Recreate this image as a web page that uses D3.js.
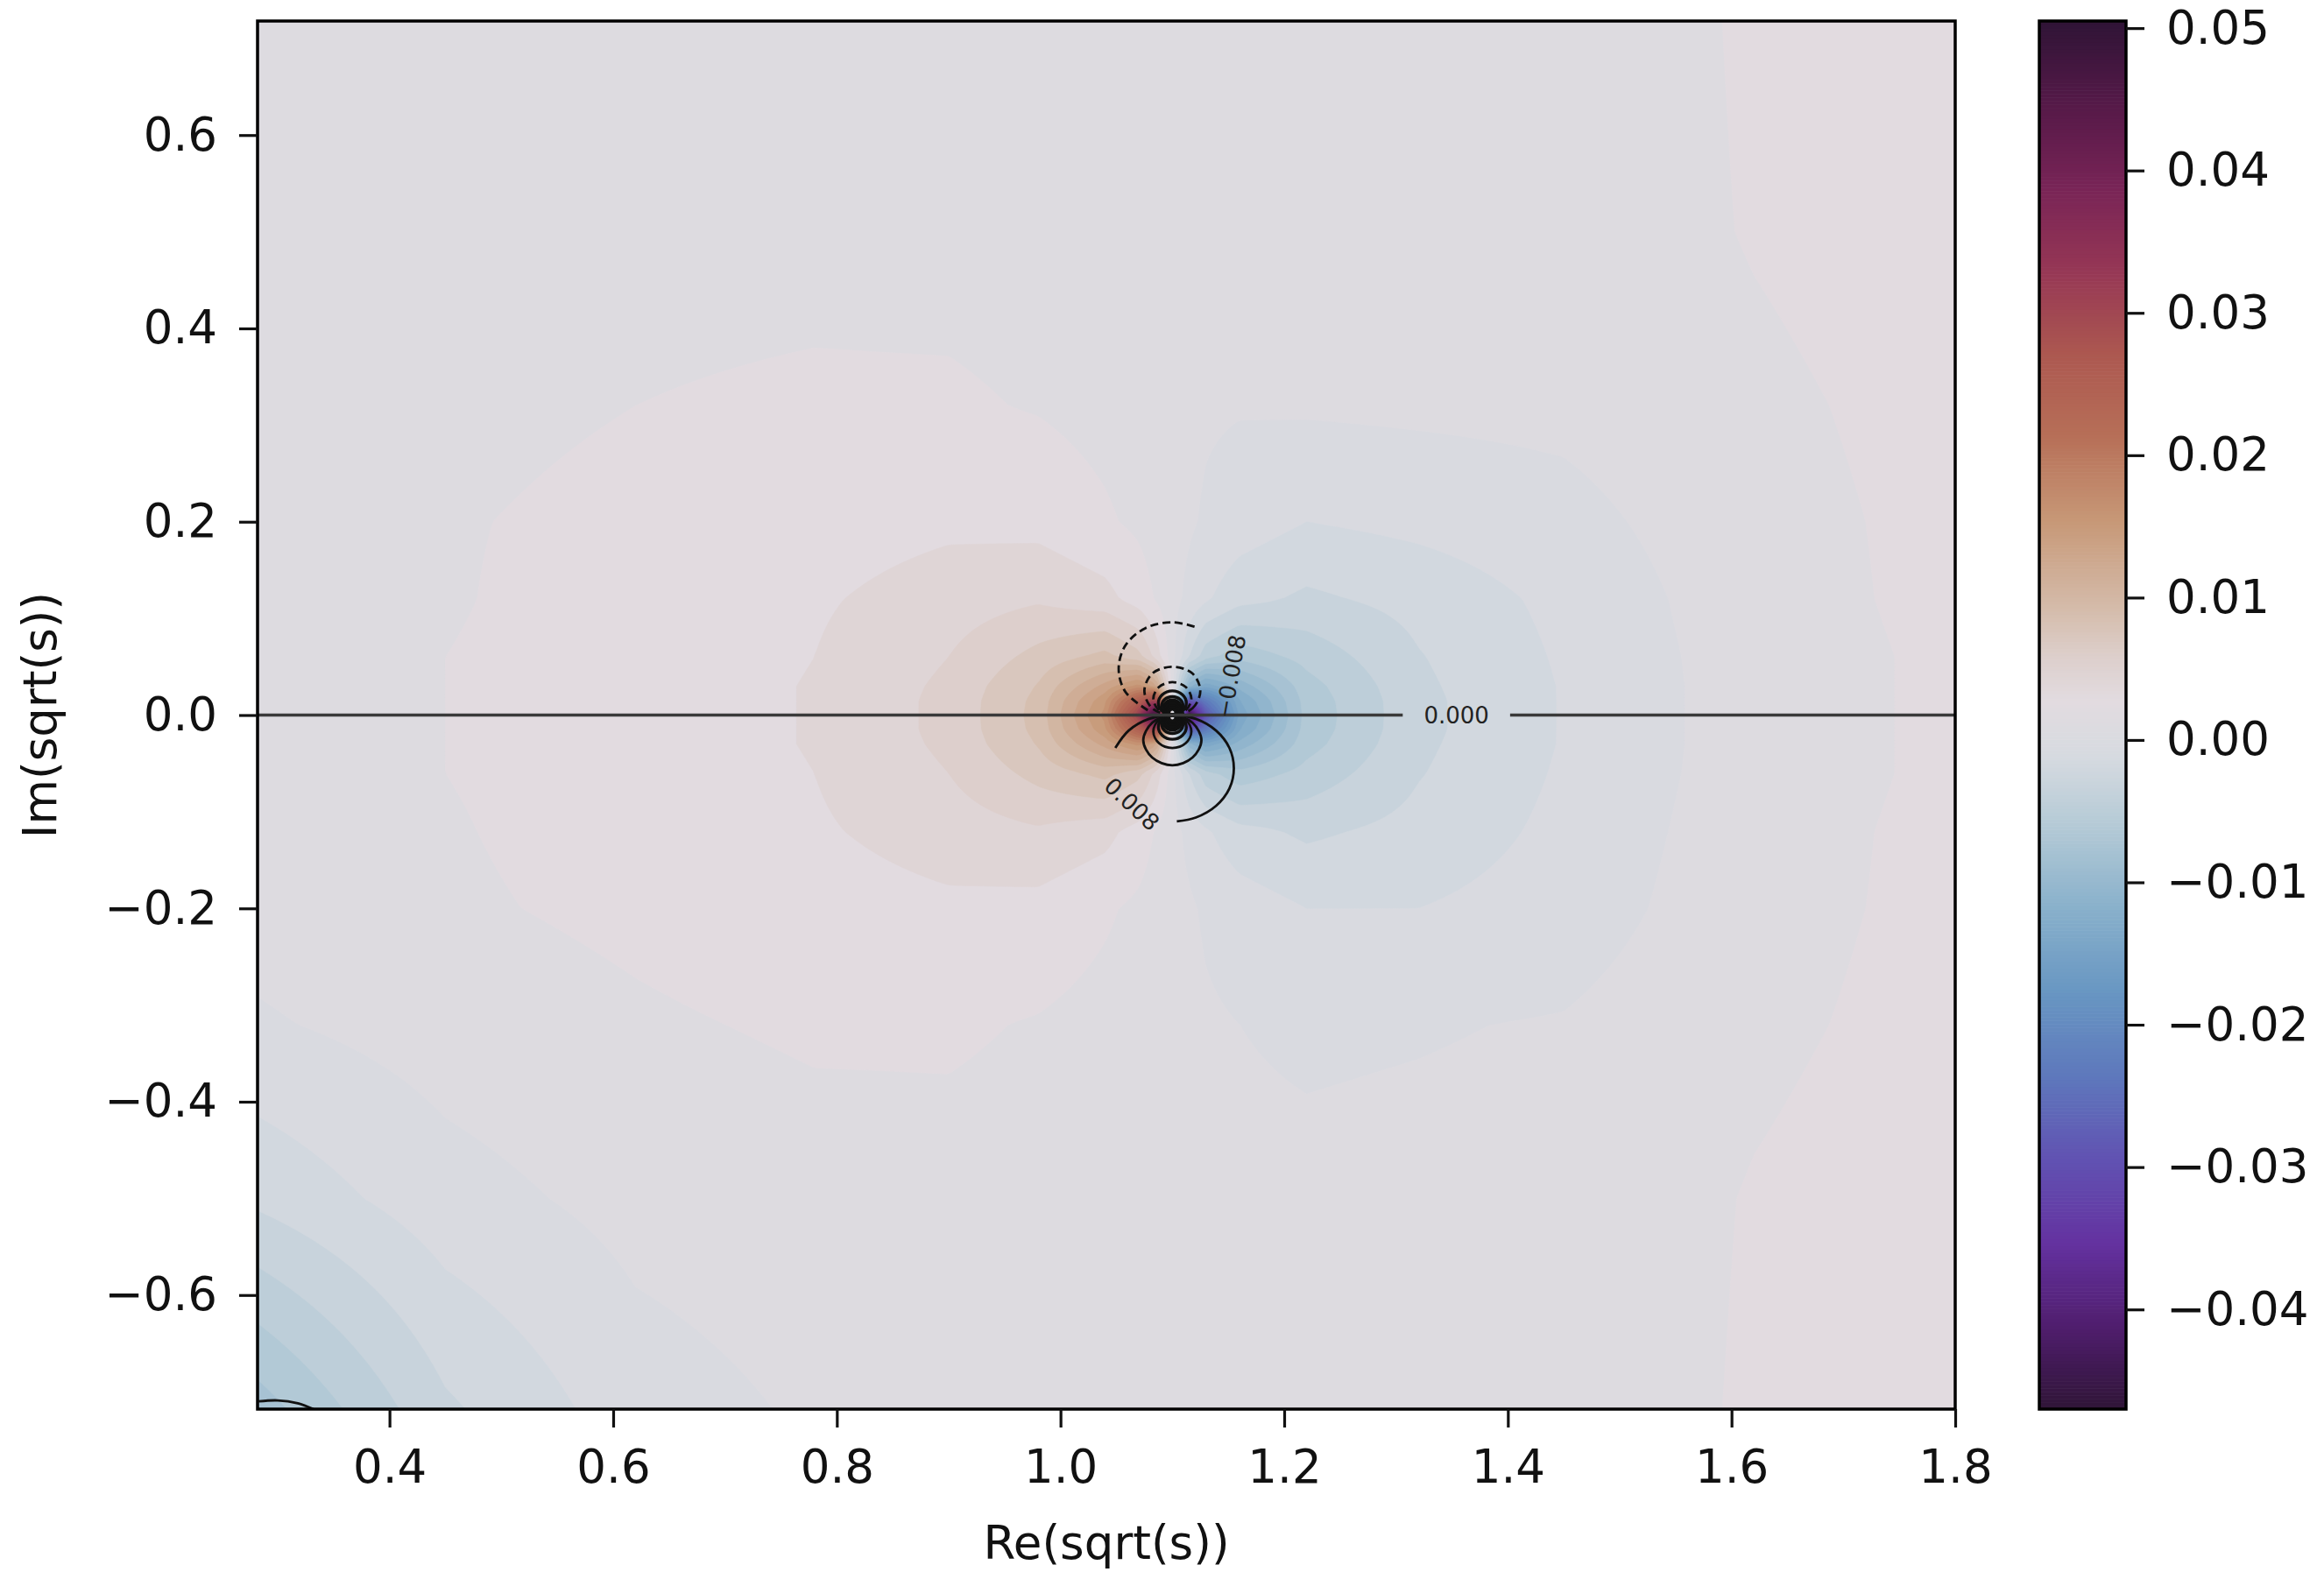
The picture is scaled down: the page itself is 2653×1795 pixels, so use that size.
<!DOCTYPE html>
<html>
<head>
<meta charset="utf-8">
<script src="https://cdn.jsdelivr.net/npm/d3@7"></script>
<style>
  html, body { margin: 0; padding: 0; background: #fff; }
  svg { display: block; }
</style>
</head>
<body>
<svg id="chart" width="2653" height="1795"></svg>
<script>
// mesh of Re(sqrt(s)) / Im(sqrt(s)) nodes, denser round the pole near 1.1
const gridX = [0.28, 0.45, 0.62, 0.78, 0.90, 0.98, 1.04, 1.07, 1.085, 1.10, 1.115, 1.13, 1.16, 1.22, 1.32, 1.45, 1.62, 1.80];
const gridY = [0.72, 0.50, 0.32, 0.20, 0.12, 0.06, 0.03, 0.015, 0, -0.015, -0.03, -0.06, -0.12, -0.20, -0.32, -0.50, -0.72];

// filled field, one row per gridY value (top row first)
const fieldRows = [
  [0.0011, 0.0012, 0.0013, 0.0013, 0.0012, 0.0012, 0.0011, 0.0011, 0.0010, 0.0010, 0.0010, 0.0009, 0.0009, 0.0008, 0.0009, 0.0010, 0.0022, 0.0030],
  [0.0013, 0.0015, 0.0016, 0.0016, 0.0015, 0.0014, 0.0012, 0.0011, 0.0011, 0.0010, 0.0009, 0.0009, 0.0008, 0.0008, 0.0009, 0.0011, 0.0021, 0.0028],
  [0.0015, 0.0017, 0.0020, 0.0022, 0.0022, 0.0019, 0.0015, 0.0013, 0.0011, 0.0010, 0.0009, 0.0007, 0.0006, 0.0007, 0.0008, 0.0009, 0.0017, 0.0025],
  [0.0015, 0.0019, 0.0023, 0.0028, 0.0032, 0.0030, 0.0022, 0.0017, 0.0013, 0.0010, 0.0007, 0.0003, -0.0002, -0.0010, -0.0006, 0.0000, 0.0015, 0.0024],
  [0.0016, 0.0019, 0.0025, 0.0033, 0.0042, 0.0048, 0.0040, 0.0028, 0.0019, 0.0010, 0.0001, -0.0008, -0.0020, -0.0028, -0.0020, -0.0006, 0.0014, 0.0024],
  [0.0016, 0.0020, 0.0025, 0.0035, 0.0050, 0.0070, 0.0085, 0.0070, 0.0045, 0.0010, -0.0025, -0.0050, -0.0065, -0.0050, -0.0026, -0.0008, 0.0013, 0.0023],
  [0.0016, 0.0020, 0.0026, 0.0036, 0.0053, 0.0081, 0.0130, 0.0160, 0.0130, 0.0010, -0.0110, -0.0140, -0.0110, -0.0061, -0.0028, -0.0009, 0.0013, 0.0023],
  [0.0016, 0.0020, 0.0026, 0.0036, 0.0054, 0.0084, 0.0151, 0.0250, 0.0310, 0.0010, -0.0290, -0.0230, -0.0131, -0.0064, -0.0029, -0.0009, 0.0013, 0.0023],
  [0.0016, 0.0020, 0.0026, 0.0036, 0.0054, 0.0085, 0.0160, 0.0310, 0.0505, 0.0010, -0.0470, -0.0290, -0.0140, -0.0065, -0.0029, -0.0009, 0.0013, 0.0023],
  [0.0016, 0.0020, 0.0026, 0.0036, 0.0054, 0.0084, 0.0151, 0.0250, 0.0310, 0.0010, -0.0290, -0.0230, -0.0131, -0.0064, -0.0029, -0.0009, 0.0013, 0.0023],
  [0.0016, 0.0020, 0.0026, 0.0036, 0.0053, 0.0081, 0.0130, 0.0160, 0.0130, 0.0010, -0.0110, -0.0140, -0.0110, -0.0061, -0.0028, -0.0009, 0.0013, 0.0023],
  [0.0016, 0.0020, 0.0025, 0.0035, 0.0050, 0.0070, 0.0085, 0.0070, 0.0045, 0.0010, -0.0025, -0.0050, -0.0065, -0.0050, -0.0026, -0.0008, 0.0013, 0.0023],
  [0.0016, 0.0019, 0.0025, 0.0033, 0.0042, 0.0048, 0.0040, 0.0028, 0.0019, 0.0010, 0.0001, -0.0008, -0.0020, -0.0028, -0.0020, -0.0006, 0.0014, 0.0024],
  [0.0011, 0.0018, 0.0023, 0.0028, 0.0032, 0.0030, 0.0022, 0.0017, 0.0013, 0.0010, 0.0007, 0.0003, -0.0002, -0.0010, -0.0010, -0.0003, 0.0015, 0.0024],
  [0.0003, 0.0012, 0.0018, 0.0022, 0.0022, 0.0019, 0.0015, 0.0013, 0.0011, 0.0010, 0.0009, 0.0007, 0.0005, 0.0003, 0.0004, 0.0006, 0.0017, 0.0025],
  [-0.0022, -0.0001, 0.0010, 0.0014, 0.0015, 0.0014, 0.0012, 0.0011, 0.0011, 0.0010, 0.0009, 0.0009, 0.0008, 0.0008, 0.0009, 0.0010, 0.0021, 0.0028],
  [-0.0079, -0.0028, -0.0002, 0.0007, 0.0010, 0.0012, 0.0011, 0.0011, 0.0010, 0.0010, 0.0010, 0.0009, 0.0009, 0.0008, 0.0009, 0.0010, 0.0022, 0.0030]
];

// line contours of the second field (negative levels drawn dashed)
const contourLines = [
  { level: 0.008, points: [[1.049, -0.034], [1.061, -0.016], [1.079, -0.004], [1.100, 0], [1.121, -0.004], [1.139, -0.016], [1.151, -0.034], [1.155, -0.055], [1.151, -0.076], [1.139, -0.094], [1.121, -0.106], [1.104, -0.110]] },
  { level: 0.016, closed: true, points: [[1.100, 0], [1.118, -0.008], [1.126, -0.026], [1.118, -0.044], [1.100, -0.052], [1.082, -0.044], [1.074, -0.026], [1.082, -0.008]] },
  { level: 0.024, closed: true, points: [[1.100, 0], [1.112, -0.005], [1.117, -0.017], [1.112, -0.029], [1.100, -0.034], [1.088, -0.029], [1.083, -0.017], [1.088, -0.005]] },
  { level: 0.032, closed: true, points: [[1.100, 0], [1.109, -0.004], [1.1125, -0.0125], [1.109, -0.021], [1.100, -0.025], [1.091, -0.021], [1.0875, -0.0125], [1.091, -0.004]] },
  { level: 0.040, closed: true, points: [[1.100, 0], [1.107, -0.003], [1.1095, -0.0095], [1.107, -0.016], [1.100, -0.019], [1.093, -0.016], [1.0905, -0.0095], [1.093, -0.003]] },
  { level: 0.048, closed: true, points: [[1.100, 0], [1.1055, -0.0023], [1.1078, -0.0078], [1.1055, -0.0133], [1.100, -0.0156], [1.0945, -0.0133], [1.0922, -0.0078], [1.0945, -0.0023]] },
  { level: 0.056, closed: true, points: [[1.100, 0], [1.1048, -0.002], [1.1068, -0.0068], [1.1048, -0.0116], [1.100, -0.0136], [1.0952, -0.0116], [1.0932, -0.0068], [1.0952, -0.002]] },
  { level: 0.064, closed: true, points: [[1.100, 0], [1.1042, -0.0018], [1.106, -0.006], [1.1042, -0.0102], [1.100, -0.012], [1.0958, -0.0102], [1.094, -0.006], [1.0958, -0.0018]] },
  { level: 0.080, closed: true, points: [[1.100, 0], [1.1034, -0.0014], [1.1048, -0.0048], [1.1034, -0.0082], [1.100, -0.0096], [1.0966, -0.0082], [1.0952, -0.0048], [1.0966, -0.0014]] },
  { level: 0.096, closed: true, points: [[1.100, 0], [1.1028, -0.0012], [1.104, -0.004], [1.1028, -0.0068], [1.100, -0.008], [1.0972, -0.0068], [1.096, -0.004], [1.0972, -0.0012]] },
  { level: 0.128, closed: true, points: [[1.100, 0], [1.1021, -0.0009], [1.103, -0.003], [1.1021, -0.0051], [1.100, -0.006], [1.0979, -0.0051], [1.097, -0.003], [1.0979, -0.0009]] },
  { level: -0.008, points: [[1.078, 0.005], [1.058, 0.024], [1.052, 0.048], [1.058, 0.072], [1.076, 0.090], [1.100, 0.096], [1.121, 0.091]] },
  { level: -0.016, closed: true, points: [[1.100, 0], [1.118, 0.007], [1.125, 0.025], [1.118, 0.043], [1.100, 0.050], [1.082, 0.043], [1.075, 0.025], [1.082, 0.007]] },
  { level: -0.024, closed: true, points: [[1.100, 0], [1.112, 0.005], [1.117, 0.017], [1.112, 0.029], [1.100, 0.034], [1.088, 0.029], [1.083, 0.017], [1.088, 0.005]] },
  { level: -0.032, closed: true, points: [[1.100, 0], [1.109, 0.004], [1.1125, 0.0125], [1.109, 0.021], [1.100, 0.025], [1.091, 0.021], [1.0875, 0.0125], [1.091, 0.004]] },
  { level: -0.040, closed: true, points: [[1.100, 0], [1.107, 0.003], [1.1095, 0.0095], [1.107, 0.016], [1.100, 0.019], [1.093, 0.016], [1.0905, 0.0095], [1.093, 0.003]] },
  { level: -0.048, closed: true, points: [[1.100, 0], [1.1055, 0.0023], [1.1078, 0.0078], [1.1055, 0.0133], [1.100, 0.0156], [1.0945, 0.0133], [1.0922, 0.0078], [1.0945, 0.0023]] },
  { level: -0.056, closed: true, points: [[1.100, 0], [1.1048, 0.002], [1.1068, 0.0068], [1.1048, 0.0116], [1.100, 0.0136], [1.0952, 0.0116], [1.0932, 0.0068], [1.0952, 0.002]] },
  { level: -0.064, closed: true, points: [[1.100, 0], [1.1042, 0.0018], [1.106, 0.006], [1.1042, 0.0102], [1.100, 0.012], [1.0958, 0.0102], [1.094, 0.006], [1.0958, 0.0018]] },
  { level: -0.080, closed: true, points: [[1.100, 0], [1.1034, 0.0014], [1.1048, 0.0048], [1.1034, 0.0082], [1.100, 0.0096], [1.0966, 0.0082], [1.0952, 0.0048], [1.0966, 0.0014]] },
  { level: -0.096, closed: true, points: [[1.100, 0], [1.1028, 0.0012], [1.104, 0.004], [1.1028, 0.0068], [1.100, 0.008], [1.0972, 0.0068], [1.096, 0.004], [1.0972, 0.0012]] },
  { level: -0.128, closed: true, points: [[1.100, 0], [1.1021, 0.0009], [1.103, 0.003], [1.1021, 0.0051], [1.100, 0.006], [1.0979, 0.0051], [1.097, 0.003], [1.0979, 0.0009]] },
  { level: 0, points: [[0.282, 0], [1.306, 0]] },
  { level: 0, points: [[1.402, 0], [1.800, 0]] },
  { level: 0.008, points: [[0.283, -0.710], [0.300, -0.709], [0.318, -0.712], [0.332, -0.718]] }
];

const contourLabels = [
  { text: "0.008", x: 1.064, y: -0.092, angle: 43 },
  { text: "\u22120.008", x: 1.152, y: 0.040, angle: -80 },
  { text: "0.000", x: 1.354, y: 0, angle: 0 }
];

const xTicks = [0.4, 0.6, 0.8, 1.0, 1.2, 1.4, 1.6, 1.8];
const yTicks = [-0.6, -0.4, -0.2, 0.0, 0.2, 0.4, 0.6];
const cbTicks = [-0.04, -0.03, -0.02, -0.01, 0.00, 0.01, 0.02, 0.03, 0.04, 0.05];
const cbRange = [-0.047, 0.0505];

// twilight_shifted-like colour map, positions 0..1 along cbRange
const cmapPos = [0, 0.06, 0.12, 0.18, 0.24, 0.30, 0.36, 0.42, 0.47, 0.49, 0.51, 0.54, 0.58, 0.64, 0.70, 0.76, 0.82, 0.88, 0.94, 1];
const cmapColors = ["#2f1436", "#501e6e", "#6432a0", "#6152b2", "#5e78bc", "#6896c2", "#88b0cb", "#b4cad6", "#d6dae0", "#dcdbe0",
                    "#e2dbe0", "#ddd0cd", "#d4baa8", "#c79877", "#b77058", "#ac5850", "#963755", "#782456", "#551948", "#2f1436"];

const svg = d3.select("#chart");
const font = "'DejaVu Sans', sans-serif";
const plot = {left: 294, right: 2232, top: 24, bottom: 1609};
const bar = {left: 2328, right: 2427};

const x = d3.scaleLinear().domain([0.282, 1.8]).range([plot.left, plot.right]);
const y = d3.scaleLinear().domain([-0.718, 0.718]).range([plot.bottom, plot.top]);
const cbY = d3.scaleLinear().domain(cbRange).range([plot.bottom, plot.top]);

const span = cbRange[1] - cbRange[0];
const color = d3.scaleLinear()
  .domain(cmapPos.map(t => cbRange[0] + t * span))
  .range(cmapColors)
  .clamp(true);

// linear interpolation inside the mesh, the way contourf treats its grid
function fieldAt(px, py) {
  const i = Math.max(0, Math.min(gridX.length - 2, d3.bisectRight(gridX, px) - 1));
  let j = 0;
  while (j < gridY.length - 2 && gridY[j + 1] > py) j++;
  const tx = Math.max(0, Math.min(1, (px - gridX[i]) / (gridX[i + 1] - gridX[i])));
  const ty = Math.max(0, Math.min(1, (gridY[j] - py) / (gridY[j] - gridY[j + 1])));
  const a = fieldRows[j][i], b = fieldRows[j][i + 1];
  const c = fieldRows[j + 1][i], d = fieldRows[j + 1][i + 1];
  return (a * (1 - tx) + b * tx) * (1 - ty) + (c * (1 - tx) + d * tx) * ty;
}

const nx = 420, ny = 360;
const [x0, x1] = x.domain(), [y0, y1] = y.domain();
const dx = (x1 - x0) / nx, dy = (y1 - y0) / ny;
const values = new Array(nx * ny);
for (let r = 0; r < ny; r++) {
  for (let c = 0; c < nx; c++) {
    values[r * nx + c] = fieldAt(x0 + (c + 0.5) * dx, y1 - (r + 0.5) * dy);
  }
}

const step = 0.0015;
const levels = d3.range(0, 67).map(k => -0.0475 + k * step);
const bands = d3.contours().size([nx, ny]).thresholds(levels)(values);

const proj = d3.geoTransform({
  point: function(u, v) { this.stream.point(x(x0 + u * dx), y(y1 - v * dy)); }
});
const path = d3.geoPath(proj);

svg.append("clipPath").attr("id", "plotClip")
  .append("rect")
  .attr("x", plot.left).attr("y", plot.top)
  .attr("width", plot.right - plot.left).attr("height", plot.bottom - plot.top);

const field = svg.append("g").attr("clip-path", "url(#plotClip)");

field.selectAll("path.band")
  .data(bands)
  .join("path")
  .attr("class", "band")
  .attr("d", path)
  .attr("fill", d => color(d.value + step / 2))
  .attr("stroke", d => color(d.value + step / 2))
  .attr("stroke-width", 0.6);

// contour lines
const line = d3.line().x(d => x(d[0])).y(d => y(d[1]));

field.selectAll("path.iso")
  .data(contourLines)
  .join("path")
  .attr("class", "iso")
  .attr("d", d => line.curve(d.closed ? d3.curveCatmullRomClosed : d3.curveCatmullRom)(d.points))
  .attr("fill", "none")
  .attr("stroke", d => d.level === 0 ? "#3a3a3a" : "#111")
  .attr("stroke-width", d => d.level === 0 ? 3.6 : (Math.abs(d.level) > 0.03 ? 3.4 : 2.8))
  .attr("stroke-dasharray", d => d.level < 0 && d.level > -0.03 ? "9,5" : null);

field.selectAll("text.clabel")
  .data(contourLabels)
  .join("text")
  .attr("class", "clabel")
  .attr("transform", d => `translate(${x(d.x)},${y(d.y)}) rotate(${d.angle})`)
  .attr("text-anchor", "middle")
  .attr("dy", "0.36em")
  .attr("font-family", font)
  .attr("font-size", 26)
  .attr("fill", "#222")
  .text(d => d.text);

// frame
svg.append("rect")
  .attr("x", plot.left).attr("y", plot.top)
  .attr("width", plot.right - plot.left).attr("height", plot.bottom - plot.top)
  .attr("fill", "none").attr("stroke", "#000").attr("stroke-width", 3.5);

function styleAxis(g) {
  g.select(".domain").remove();
  g.attr("font-family", font).attr("font-size", 53).style("color", "#111");
  g.selectAll(".tick line").attr("stroke-width", 3.2);
}

svg.append("g")
  .attr("transform", `translate(0,${plot.bottom})`)
  .call(d3.axisBottom(x).tickValues(xTicks).tickFormat(d3.format(".1f")).tickSize(21).tickPadding(25))
  .call(styleAxis);

svg.append("g")
  .attr("transform", `translate(${plot.left},0)`)
  .call(d3.axisLeft(y).tickValues(yTicks).tickFormat(d3.format(".1f")).tickSize(21).tickPadding(25))
  .call(styleAxis);

svg.append("text")
  .attr("x", (plot.left + plot.right) / 2).attr("y", 1780)
  .attr("text-anchor", "middle")
  .attr("font-family", font).attr("font-size", 53).attr("fill", "#111")
  .text("Re(sqrt(s))");

svg.append("text")
  .attr("transform", `translate(64,${(plot.top + plot.bottom) / 2}) rotate(-90)`)
  .attr("text-anchor", "middle")
  .attr("font-family", font).attr("font-size", 53).attr("fill", "#111")
  .text("Im(sqrt(s))");

// colour bar
const nSlices = 400;
const sliceH = span / nSlices;
svg.append("g").selectAll("rect")
  .data(d3.range(nSlices).map(i => cbRange[0] + i * sliceH))
  .join("rect")
  .attr("x", bar.left)
  .attr("width", bar.right - bar.left)
  .attr("y", d => cbY(d + sliceH))
  .attr("height", d => cbY(d) - cbY(d + sliceH) + 0.6)
  .attr("fill", d => color(d + sliceH / 2));

svg.append("rect")
  .attr("x", bar.left).attr("y", plot.top)
  .attr("width", bar.right - bar.left).attr("height", plot.bottom - plot.top)
  .attr("fill", "none").attr("stroke", "#000").attr("stroke-width", 3.5);

svg.append("g")
  .attr("transform", `translate(${bar.right},0)`)
  .call(d3.axisRight(cbY).tickValues(cbTicks).tickFormat(d3.format(".2f")).tickSize(21).tickPadding(25))
  .call(styleAxis);
</script>
</body>
</html>
